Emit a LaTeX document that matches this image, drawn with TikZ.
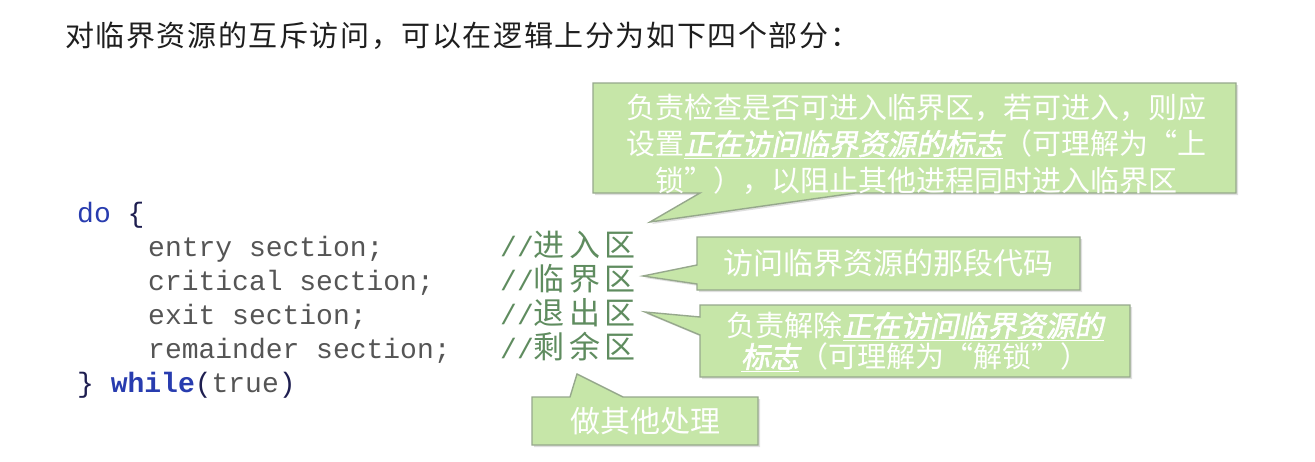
\documentclass[tikz,border=0pt]{standalone}
\usepackage{fontspec}
\setmainfont{Noto Sans CJK SC}
\newfontfamily\cjk{Noto Sans CJK SC}
\newfontfamily\cjkwide[LetterSpace=5.5]{Noto Sans CJK SC}
\newfontfamily\cjkcmt[LetterSpace=14]{Noto Sans CJK SC}
\newfontfamily\cjkem[FakeSlant=0.2,FakeBold=2]{Noto Sans CJK SC}
\setmonofont{Liberation Mono}
\usetikzlibrary{shadows}
\definecolor{boxfill}{RGB}{198,230,168}
\definecolor{boxdraw}{RGB}{150,168,140}
\definecolor{codegray}{RGB}{85,85,85}
\definecolor{kwblue}{RGB}{40,60,175}
\definecolor{brace}{RGB}{30,30,80}
\definecolor{cmt}{RGB}{95,140,95}
\definecolor{titlecol}{RGB}{30,30,30}
\newcommand\emz[1]{\underline{\cjkem #1}}
\tikzset{
  callout/.style={fill=boxfill, draw=boxdraw, line width=1.4pt, line join=miter,
    drop shadow={shadow xshift=2pt, shadow yshift=-2pt, opacity=0.25}},
  codeline/.style={anchor=base west, inner sep=0pt, text=codegray,
    font=\ttfamily\fontsize{28}{34}\selectfont},
  cmtline/.style={anchor=base west, inner sep=0pt, text=cmt,
    font=\fontsize{28}{34}\selectfont},
  calltext/.style={text=white, align=center, inner sep=0pt,
    font=\cjk\fontsize{29}{36.5}\selectfont},
}
\newcommand\cmtcjk[1]{{\cjkcmt\fontsize{31}{34}\selectfont #1}}
\begin{document}
\begin{tikzpicture}[x=1pt,y=-1pt]
\useasboundingbox[fill=white] (0,0) rectangle (1315,461);

% title
\node[anchor=base west, inner sep=0pt, text=titlecol,
  font=\cjkwide\fontsize{29}{34}\selectfont] (title) at (65,46)
  {对临界资源的互斥访问，可以在逻辑上分为如下四个部分：};

% code
\node[codeline] (l0) at (77,222) {\textcolor{kwblue}{do} \textcolor{brace}{\{}};
\node[codeline] (l1) at (148,256) {entry section;};
\node[codeline] (l2) at (148,290) {critical section;};
\node[codeline] (l3) at (148,324) {exit section;};
\node[codeline] (l4) at (148,358) {remainder section;};
\node[codeline] (l5) at (77,392) {\textcolor{brace}{\}} \textcolor{kwblue}{\bfseries while}\textcolor{brace}{(}true\textcolor{brace}{)}};

% comments
\node[cmtline] (c1) at (500,256) {{\ttfamily //}\cmtcjk{进入区}};
\node[cmtline] (c2) at (500,290) {{\ttfamily //}\cmtcjk{临界区}};
\node[cmtline] (c3) at (500,324) {{\ttfamily //}\cmtcjk{退出区}};
\node[cmtline] (c4) at (500,358) {{\ttfamily //}\cmtcjk{剩余区}};

% callout 1 (entry)
\coordinate (t1) at (650,222);
\draw[callout] (593,83) -- (1236,83) -- (1236,193) -- (855,193) -- (t1) -- (700,193) -- (593,193) -- cycle;
\node[calltext] (k1) at (916,144)
  {负责检查是否可进入临界区，若可进入，则应\\
   设置\emz{正在访问临界资源的标志}（可理解为“上\\
   锁”），以阻止其他进程同时进入临界区};

% callout 2 (critical)
\coordinate (t2) at (643,276);
\draw[callout] (697,237) -- (1080,237) -- (1080,290) -- (697,290) -- (697,284) -- (t2) -- (697,265) -- cycle;
\node[calltext, font=\cjk\fontsize{30}{36}\selectfont] (k2) at (888,263) {访问临界资源的那段代码};

% callout 3 (exit)
\coordinate (t3) at (645,312);
\draw[callout] (700,305) -- (1130,305) -- (1130,377) -- (700,377) -- (700,335) -- (t3) -- (700,317) -- cycle;
\node[calltext, font=\cjk\fontsize{29}{31}\selectfont] (k3) at (915,342)
  {负责解除\emz{正在访问临界资源的}\\
   \emz{标志}（可理解为“解锁”）};

% callout 4 (remainder)
\coordinate (t4) at (577,374);
\draw[callout] (532,397) -- (570,397) -- (t4) -- (623,397) -- (758,397) -- (758,445) -- (532,445) -- cycle;
\node[calltext, font=\cjk\fontsize{30}{36}\selectfont] (k4) at (645,421) {做其他处理};
\end{tikzpicture}
\end{document}
